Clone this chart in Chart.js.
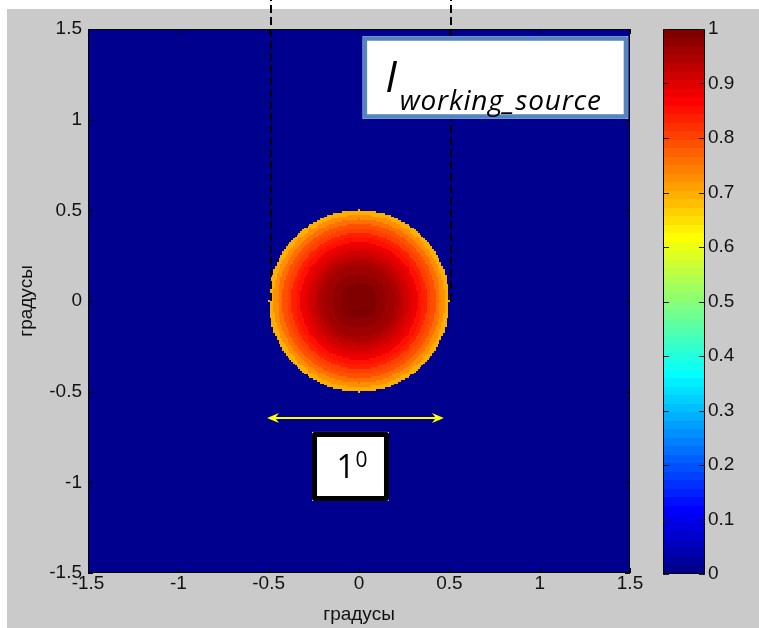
<!DOCTYPE html>
<html>
<head>
<meta charset="utf-8">
<script src="https://cdn.jsdelivr.net/npm/chart.js@4/dist/chart.umd.min.js"></script>
<style>
  html, body { margin: 0; padding: 0; background: #ffffff; overflow: hidden; }
  #wrap { position: relative; width: 759px; height: 628px; }
  #main { position: absolute; left: 0; top: 0; }
  #bar  { position: absolute; left: 650px; top: 0; }
</style>
</head>
<body>
<div id="wrap">
  <canvas id="main" width="759" height="628"></canvas>
  <canvas id="bar" width="109" height="628"></canvas>
</div>
<script>
// Radial intensity profile of the source spot: outer radius of each ring (degrees) and its level
const ringOuterRadius = [0.025, 0.05, 0.075, 0.1, 0.125, 0.15, 0.175, 0.2, 0.225, 0.25,
                         0.275, 0.3, 0.325, 0.35, 0.375, 0.4, 0.425, 0.45, 0.475, 0.5];
const ringLevel       = [1.0, 0.998, 0.995, 0.99, 0.984, 0.976, 0.966, 0.955, 0.942, 0.928,
                         0.912, 0.895, 0.876, 0.856, 0.834, 0.81, 0.784, 0.757, 0.728, 0.69];
const sampleStep = 0.01;               // grid spacing of the intensity map, degrees
const fieldMin = -1.5, fieldMax = 1.5; // extent of the map, degrees

const axisTicks      = [-1.5, -1, -0.5, 0, 0.5, 1, 1.5];
const axisTickLabels = ['-1.5', '-1', '-0.5', '0', '0.5', '1', '1.5'];
const barTicks       = [0, 0.1, 0.2, 0.3, 0.4, 0.5, 0.6, 0.7, 0.8, 0.9, 1];
const barTickLabels  = ['0', '0.1', '0.2', '0.3', '0.4', '0.5', '0.6', '0.7', '0.8', '0.9', '1'];
const axisTitle = 'градусы';
const sourceName = 'I', sourceSub = 'working_source';
const spanMain = '1', spanSup = '0';

// MATLAB-style jet colormap with 64 entries
const JET = (function () {
  const m = 64, n = 16, u = [];
  for (let i = 1; i <= n; i++) u.push(i / n);
  for (let i = 1; i < n; i++) u.push(1);
  for (let i = n; i >= 1; i--) u.push(i / n);
  const J = Array.from({ length: m }, () => [0, 0, 0]);
  const g0 = Math.ceil(n / 2) - (m % 4 === 1 ? 1 : 0);
  for (let i = 0; i < u.length; i++) {
    const g = g0 + i + 1, r = g + n, b = g - n;
    if (r >= 1 && r <= m) J[r - 1][0] = u[i];
    if (g >= 1 && g <= m) J[g - 1][1] = u[i];
    if (b >= 1 && b <= m) J[b - 1][2] = u[i];
  }
  return J.map(c => c.map(v => Math.round(v * 255)));
})();
function jetIndex(v) { return Math.min(63, Math.max(0, Math.floor(v * 64))); }

function levelAt(r) {
  for (let k = 0; k < ringOuterRadius.length; k++) {
    if (r <= ringOuterRadius[k] + 1e-9) return ringLevel[k];
  }
  return 0;
}

const FONT = "'Liberation Sans', Arial, sans-serif";
const GRAY = '#cacaca';

// Page background: thin white margin at the top/left, grey figure area
const backdrop = {
  id: 'backdrop',
  beforeDraw(chart, args, opts) {
    const { ctx, width, height } = chart;
    ctx.save();
    ctx.fillStyle = '#ffffff';
    ctx.fillRect(0, 0, width, height);
    ctx.fillStyle = GRAY;
    ctx.fillRect(opts.left || 0, 9, width, height);
    ctx.restore();
  }
};

// Intensity map painted cell by cell on the x/y scales
let fieldImage = null;
function buildField() {
  const N = Math.round((fieldMax - fieldMin) / sampleStep) + 1;
  const off = document.createElement('canvas');
  off.width = N; off.height = N;
  const c = off.getContext('2d');
  const img = c.createImageData(N, N);
  for (let j = 0; j < N; j++) {
    const yv = fieldMax - j * sampleStep;
    for (let i = 0; i < N; i++) {
      const xv = fieldMin + i * sampleStep;
      const col = JET[jetIndex(levelAt(Math.hypot(xv, yv)))];
      const p = (j * N + i) * 4;
      img.data[p] = col[0]; img.data[p + 1] = col[1]; img.data[p + 2] = col[2]; img.data[p + 3] = 255;
    }
  }
  c.putImageData(img, 0, 0);
  return off;
}

const fieldLayer = {
  id: 'fieldLayer',
  beforeDatasetsDraw(chart) {
    const { ctx, chartArea: a, scales: { x, y } } = chart;
    if (!fieldImage) fieldImage = buildField();
    const h = sampleStep / 2;
    const x0 = x.getPixelForValue(fieldMin - h), x1 = x.getPixelForValue(fieldMax + h);
    const y0 = y.getPixelForValue(fieldMax + h), y1 = y.getPixelForValue(fieldMin - h);
    ctx.save();
    ctx.beginPath();
    ctx.rect(a.left, a.top, a.right - a.left, a.bottom - a.top);
    ctx.clip();
    ctx.imageSmoothingEnabled = false;
    ctx.drawImage(fieldImage, x0, y0, x1 - x0, y1 - y0);
    ctx.restore();

    // axes box and inward tick marks
    ctx.save();
    ctx.strokeStyle = '#000000';
    ctx.lineWidth = 1;
    ctx.strokeRect(a.left + 0.5, a.top + 0.5, a.right - a.left - 1, a.bottom - a.top - 1);
    ctx.beginPath();
    axisTicks.forEach(t => {
      const px = Math.round(x.getPixelForValue(t)) + 0.5;
      ctx.moveTo(px, a.bottom); ctx.lineTo(px, a.bottom - 5);
      ctx.moveTo(px, a.top); ctx.lineTo(px, a.top + 5);
      const py = Math.round(y.getPixelForValue(t)) + 0.5;
      ctx.moveTo(a.left, py); ctx.lineTo(a.left + 5, py);
      ctx.moveTo(a.right, py); ctx.lineTo(a.right - 5, py);
    });
    ctx.stroke();
    ctx.restore();
  }
};

// Annotations placed in data coordinates: guide lines, label box, span arrow
const annotations = {
  id: 'annotations',
  afterDraw(chart) {
    const { ctx, scales: { x, y } } = chart;
    const X = v => x.getPixelForValue(v), Y = v => y.getPixelForValue(v);
    ctx.save();

    // dashed guide lines from the spot up past the top of the figure
    ctx.strokeStyle = '#000000';
    ctx.lineWidth = 2;
    ctx.setLineDash([8, 4]);
    [-0.487, 0.509].forEach(v => {
      const px = Math.round(X(v));
      ctx.beginPath();
      ctx.moveTo(px, Y(0));
      ctx.lineTo(px, 0);
      ctx.stroke();
    });
    ctx.setLineDash([]);

    // label box with the source name
    const bx0 = X(0.02), bx1 = X(1.49), by0 = Y(1.46), by1 = Y(1.005);
    ctx.fillStyle = '#ffffff';
    ctx.fillRect(bx0, by0, bx1 - bx0, by1 - by0);
    ctx.strokeStyle = '#5585c0';
    ctx.lineWidth = 4.5;
    ctx.lineJoin = 'round';
    ctx.strokeRect(bx0 + 2.25, by0 + 2.25, bx1 - bx0 - 4.5, by1 - by0 - 4.5);
    ctx.fillStyle = '#000000';
    ctx.textBaseline = 'alphabetic';
    ctx.textAlign = 'left';
    ctx.font = "italic 43px 'Open Sans', sans-serif";
    ctx.fillText(sourceName, X(0.145), Y(1.153));
    ctx.font = "italic 28px 'Open Sans', sans-serif";
    ctx.letterSpacing = '0.8px';
    ctx.fillText(sourceSub, X(0.225), Y(1.053));
    ctx.letterSpacing = '0px';

    // double-headed span arrow
    const ay = Y(-0.645), ax0 = X(-0.509), ax1 = X(0.47);
    ctx.strokeStyle = '#ffff00';
    ctx.fillStyle = '#ffff00';
    ctx.lineWidth = 2;
    ctx.beginPath();
    ctx.moveTo(ax0 + 6, ay); ctx.lineTo(ax1 - 6, ay);
    ctx.stroke();
    [[ax0, 1], [ax1, -1]].forEach(([tip, d]) => {
      ctx.beginPath();
      ctx.moveTo(tip, ay);
      ctx.lineTo(tip + d * 12, ay - 5);
      ctx.lineTo(tip + d * 8, ay);
      ctx.lineTo(tip + d * 12, ay + 5);
      ctx.closePath();
      ctx.fill();
    });

    // box with the span size
    const sx0 = X(-0.26), sx1 = X(0.166), sy0 = Y(-0.722), sy1 = Y(-1.103);
    ctx.fillStyle = '#ffffff';
    ctx.fillRect(sx0, sy0, sx1 - sx0, sy1 - sy0);
    ctx.strokeStyle = '#000000';
    ctx.lineWidth = 5;
    ctx.lineJoin = 'round';
    ctx.strokeRect(sx0 + 2.5, sy0 + 2.5, sx1 - sx0 - 5, sy1 - sy0 - 5);
    ctx.fillStyle = '#000000';
    ctx.font = "32px 'Open Sans', sans-serif";
    ctx.fillText(spanMain, X(-0.125), Y(-0.976));
    ctx.font = "21px 'Open Sans', sans-serif";
    ctx.fillText(spanSup, X(-0.02), Y(-0.913));

    ctx.restore();
  }
};

Chart.defaults.font.family = FONT;
Chart.defaults.font.size = 19;
Chart.defaults.color = '#111111';

function fixedTicks(values) {
  return function (scale) { scale.ticks = values.map(v => ({ value: v })); };
}

new Chart(document.getElementById('main'), {
  type: 'scatter',
  data: { datasets: [] },
  options: {
    responsive: false,
    animation: false,
    events: [],
    layout: { padding: { left: 0, top: 29, right: 129, bottom: 0 } },
    plugins: {
      legend: { display: false },
      tooltip: { enabled: false },
      backdrop: { left: 7 }
    },
    scales: {
      x: {
        type: 'linear', min: fieldMin, max: fieldMax,
        afterBuildTicks: fixedTicks(axisTicks),
        afterFit(scale) { scale.height = 55; },
        grid: { display: false, drawTicks: false },
        border: { display: false },
        ticks: {
          padding: -1, maxRotation: 0, autoSkip: false,
          callback: (v, i) => axisTickLabels[i]
        },
        title: { display: true, text: axisTitle, padding: { top: 0, bottom: 2 }, font: { size: 19 } }
      },
      y: {
        type: 'linear', min: fieldMin, max: fieldMax,
        afterBuildTicks: fixedTicks(axisTicks),
        afterFit(scale) { scale.width = 88; },
        grid: { display: false, drawTicks: false },
        border: { display: false },
        ticks: {
          padding: 6, autoSkip: false,
          callback: (v, i) => axisTickLabels[i]
        },
        title: { display: true, text: axisTitle, padding: { top: 15, bottom: 0 }, font: { size: 19 } }
      }
    }
  },
  plugins: [backdrop, fieldLayer, annotations]
});

// Colour scale: 64 jet bands on a 0..1 axis
const colorBand = {
  id: 'colorBand',
  beforeDatasetsDraw(chart) {
    const { ctx, chartArea: a, scales: { y } } = chart;
    ctx.save();
    for (let k = 0; k < 64; k++) {
      const top = Math.round(y.getPixelForValue((k + 1) / 64));
      const bot = Math.round(y.getPixelForValue(k / 64));
      const c = JET[k];
      ctx.fillStyle = `rgb(${c[0]},${c[1]},${c[2]})`;
      ctx.fillRect(a.left, top, a.right - a.left, bot - top);
    }
    ctx.strokeStyle = '#000000';
    ctx.lineWidth = 1;
    ctx.strokeRect(a.left + 0.5, a.top + 0.5, a.right - a.left - 1, a.bottom - a.top - 1);
    ctx.strokeStyle = '#1a1a1a';
    ctx.beginPath();
    barTicks.forEach(t => {
      const py = Math.round(y.getPixelForValue(t)) + 0.5;
      ctx.moveTo(a.left, py); ctx.lineTo(a.left + 6, py);
      ctx.moveTo(a.right, py); ctx.lineTo(a.right - 6, py);
    });
    ctx.stroke();
    ctx.restore();
  }
};

new Chart(document.getElementById('bar'), {
  type: 'bar',
  data: { labels: [''], datasets: [] },
  options: {
    responsive: false,
    animation: false,
    events: [],
    layout: { padding: { left: 13, top: 29, right: 0, bottom: 54 } },
    plugins: {
      legend: { display: false },
      tooltip: { enabled: false },
      backdrop: { left: 0 }
    },
    scales: {
      x: { display: false },
      y: {
        position: 'right', min: 0, max: 1,
        afterBuildTicks: fixedTicks(barTicks),
        afterFit(scale) { scale.width = 54; },
        grid: { display: false, drawTicks: false },
        border: { display: false },
        ticks: {
          padding: 3, autoSkip: false,
          callback: (v, i) => barTickLabels[i]
        }
      }
    }
  },
  plugins: [backdrop, colorBand]
});
</script>
</body>
</html>
